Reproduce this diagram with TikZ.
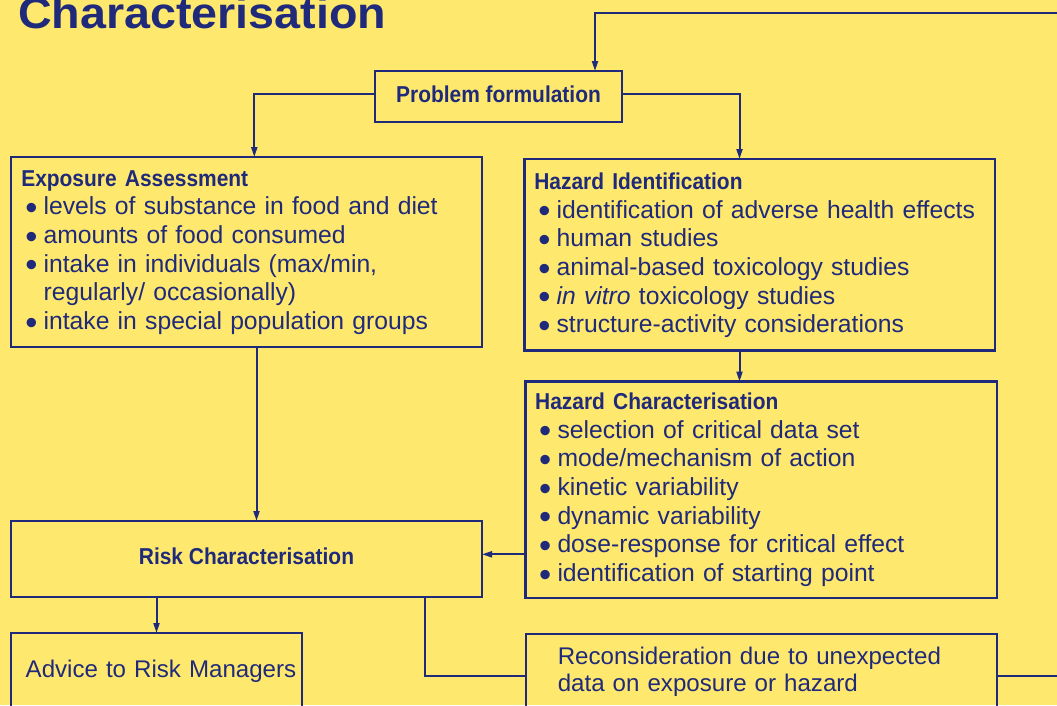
\documentclass[tikz,border=0pt]{standalone}
\usepackage{fontspec}
\setmainfont{Liberation Sans}
\newfontfamily\hfont{Liberation Sans}[FakeStretch=0.91]
\newfontfamily\tfont{Liberation Sans}[FakeStretch=1.06]
\usetikzlibrary{arrows.meta}

\definecolor{bgyellow}{RGB}{255,232,110}
\definecolor{navy}{RGB}{31,42,122}

% bullet line with hanging indent for wrapped continuation lines
\newcommand\bigdot{\raisebox{-4.6pt}{\scalebox{1.4}{•}}}
\newcommand\bitem{\par\hangindent=22.3pt\hangafter=1\noindent\makebox[22.3pt][l]{\hspace*{4pt}\bigdot}}
\newcommand\boxhead[1]{{\hfont\fontsize{23}{28.7}\selectfont\bfseries #1\par}}

\tikzset{
  box/.style={draw=navy, line width=2.2pt, inner sep=0pt, outer sep=0pt, anchor=north west},
  headtext/.style={text=navy, font=\hfont\fontsize{23}{28.7}\selectfont\bfseries},
  bodytext/.style={text=navy, inner sep=0pt, anchor=base west, text width=455pt, align=left,
    font=\fontsize{24.7}{28.7}\selectfont},
  plaintext/.style={text=navy, inner sep=0pt, anchor=base west, text width=440pt, align=left,
    font=\fontsize{24.1}{27.7}\selectfont},
  line/.style={draw=navy, line width=2pt},
  arr/.style={line, -{Triangle[length=10pt,width=6pt]}},
}

\begin{document}
\begin{tikzpicture}[x=1pt,y=-1pt]
\useasboundingbox (0,0) rectangle (1057,705);
\clip (0,0) rectangle (1057,705);
\fill[bgyellow] (0,0) rectangle (1057,705);

% heading
\node[anchor=base west, inner sep=0pt, text=navy,
      font=\tfont\fontsize{44}{50}\selectfont\bfseries] (title) at (18,28.3) {Characterisation};

% boxes
\node[box, headtext, minimum width=247pt, minimum height=50.7pt,
      text height=17pt, text depth=4.2pt] (pf) at (375,71) {Problem formulation};
\node[box, minimum width=471pt, minimum height=190pt] (ea) at (11,157) {};
\node[box, minimum width=470.5pt, minimum height=191.5pt] (hi) at (524.5,159) {};
\node[box, minimum width=471.5pt, minimum height=216.5pt] (hc) at (525.5,381.5) {};
\node[box, headtext, minimum width=471pt, minimum height=76pt,
      text height=16pt, text depth=5.4pt] (rc) at (11,521) {Risk Characterisation};
\node[box, minimum width=291pt, minimum height=100pt] (adv) at (11,633) {};
\node[box, minimum width=471pt, minimum height=84pt] (rec) at (526,634) {};

% box contents
\node[bodytext] (eatext) at (21.1,186) {%
  \boxhead{Exposure Assessment}%
  \bitem levels of substance in food and diet
  \bitem amounts of food consumed
  \bitem intake in individuals (max/min,\newline regularly/ occasionally)
  \bitem intake in special population groups\par};
\node[bodytext] (hitext) at (534.1,189.3) {%
  \boxhead{Hazard Identification}%
  \bitem identification of adverse health effects
  \bitem human studies
  \bitem animal-based toxicology studies
  \bitem \textit{in vitro} toxicology studies
  \bitem structure-activity considerations\par};
\node[bodytext] (hctext) at (535,409.3) {%
  \boxhead{Hazard Characterisation}%
  \bitem selection of critical data set
  \bitem mode/mechanism of action
  \bitem kinetic variability
  \bitem dynamic variability
  \bitem dose-response for critical effect
  \bitem identification of starting point\par};
\node[plaintext] (advtext) at (25.5,677) {Advice to Risk Managers};
\node[plaintext] (rectext) at (557.6,664) {Reconsideration due to unexpected\\data on exposure or hazard};

% connector end points
\coordinate (fbR) at (1060,13);
\coordinate (fbT) at (595,13);
\coordinate (backR) at (1060,676);
\path (pf.west) ++(0,-2) coordinate (pfL);
\path (pf.east) ++(0,-2) coordinate (pfR);
\path (ea.north) ++(7.8,0) coordinate (eaIn);
\path (hi.north) ++(-20.25,0) coordinate (hiIn);
\path (ea.south) ++(10,0) coordinate (eaOut);
\path (rc.east) ++(0,-4.7) coordinate (rcIn);
\path (rc.south) ++(178.5,0) coordinate (rcOut);

% connectors
\draw[arr] (fbR) -- (fbT) -- (fbT |- pf.north);
\draw[arr] (pfL) -| (eaIn);
\draw[arr] (pfR) -| (hiIn);
\draw[arr] (hiIn |- hi.south) -- (hiIn |- hc.north);
\draw[arr] (eaOut) -- (eaOut |- rc.north);
\draw[arr] (hc.west |- rcIn) -- (rcIn);
\draw[arr] (adv.north |- rc.south) -- (adv.north);
\draw[line] (rcOut) |- (rec.west);
\draw[line] (rec.east) -- (backR);
\end{tikzpicture}
\end{document}
